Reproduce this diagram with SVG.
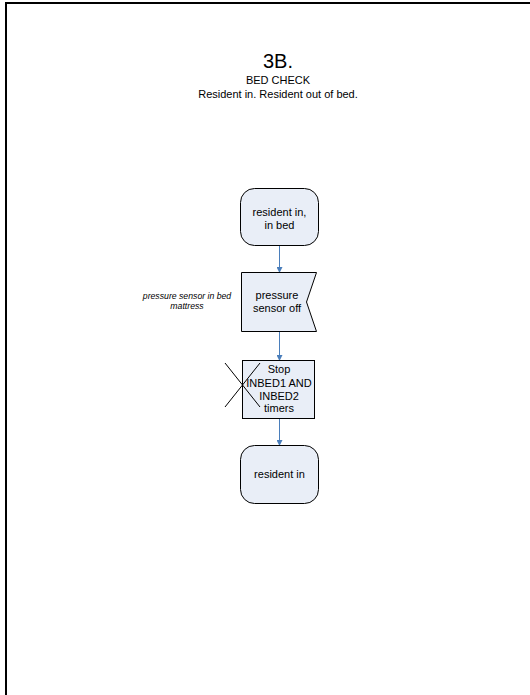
<svg xmlns="http://www.w3.org/2000/svg" width="530" height="695" viewBox="0 0 530 695">
  <style>
    .node { fill: #e9eef7; stroke: #000; stroke-width: 1; }
    .lbl { font-family: "Liberation Sans", Arial, sans-serif; font-size: 11px; fill: #000; text-anchor: middle; }
    .conn { stroke: #4a7ebb; stroke-width: 1; fill: none; marker-end: url(#arr); }
    .note { font-family: "Liberation Sans", Arial, sans-serif; font-size: 8.7px; font-style: italic; fill: #000; text-anchor: middle; }
  </style>
  <defs>
    <marker id="arr" markerWidth="6" markerHeight="6" refX="5" refY="3" orient="auto" markerUnits="userSpaceOnUse">
      <path d="M0,0 L6,3 L0,6 Z" fill="#4a7ebb"/>
    </marker>
  </defs>
  <rect width="530" height="695" fill="#fff"/>
  <!-- page frame -->
  <path d="M6,695 V3 H530" fill="none" stroke="#000" stroke-width="2"/>

  <!-- title -->
  <text x="278" y="68" class="lbl" style="font-size:20px">3B.</text>
  <text x="278" y="84" class="lbl">BED CHECK</text>
  <text x="278" y="98" class="lbl">Resident in. Resident out of bed.</text>

  <g id="connectors">
    <line class="conn" x1="279.5" y1="245" x2="279.5" y2="272"/>
    <line class="conn" x1="279.5" y1="331" x2="279.5" y2="360"/>
    <line class="conn" x1="279.5" y1="418" x2="279.5" y2="445"/>
  </g>

  <g id="n-start">
    <rect class="node" x="240.5" y="188.5" width="78" height="57" rx="14"/>
    <text x="279.5" y="216" class="lbl">resident in,</text>
    <text x="279.5" y="229" class="lbl">in bed</text>
  </g>

  <g id="n-sensor">
    <path class="node" d="M241.5,272.5 H316.5 L306.5,302 L316.5,331.5 H241.5 Z"/>
    <text x="277" y="299" class="lbl">pressure</text>
    <text x="277" y="312" class="lbl">sensor off</text>
  </g>

  <g id="n-note">
    <text x="187" y="299" class="note">pressure sensor in bed</text>
    <text x="187" y="309" class="note">mattress</text>
  </g>

  <g id="n-stop">
    <rect class="node" x="242.5" y="360.5" width="72" height="58"/>
    <text x="279" y="373" class="lbl">Stop</text>
    <text x="279" y="387" class="lbl">INBED1 AND</text>
    <text x="279" y="400" class="lbl">INBED2</text>
    <text x="279" y="412" class="lbl">timers</text>
    <line x1="225" y1="363" x2="260" y2="407" stroke="#000" stroke-width="1"/>
    <line x1="260" y1="363" x2="225" y2="407" stroke="#000" stroke-width="1"/>
  </g>

  <g id="n-end">
    <rect class="node" x="240.5" y="445.5" width="78" height="58" rx="14"/>
    <text x="279.5" y="478" class="lbl">resident in</text>
  </g>
</svg>
